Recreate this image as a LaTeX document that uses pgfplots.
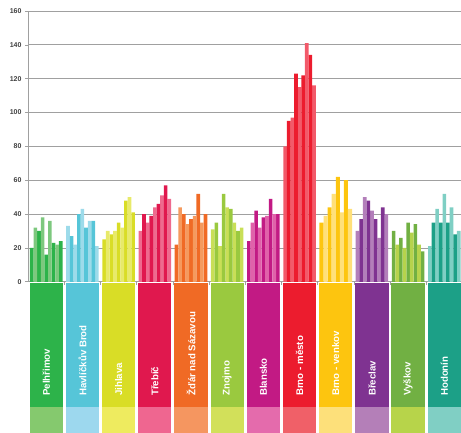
\documentclass[border=0pt]{standalone}
\usepackage{fontspec}
\setmainfont{Liberation Sans}
\usepackage{pgfplots}
\pgfplotsset{compat=1.18}
\definecolor{d0}{HTML}{2DB34A}\definecolor{l0}{HTML}{7DC87E}\definecolor{s0}{HTML}{85C96E}
\definecolor{d1}{HTML}{56C5D8}\definecolor{l1}{HTML}{9DDBEA}\definecolor{s1}{HTML}{9DD8EE}
\definecolor{d2}{HTML}{D9DD26}\definecolor{l2}{HTML}{E8EA6A}\definecolor{s2}{HTML}{EEEB5F}
\definecolor{d3}{HTML}{E0184E}\definecolor{l3}{HTML}{EE6A8E}\definecolor{s3}{HTML}{EF6690}
\definecolor{d4}{HTML}{F06A25}\definecolor{l4}{HTML}{F59A5E}\definecolor{s4}{HTML}{F59660}
\definecolor{d5}{HTML}{9AC93F}\definecolor{l5}{HTML}{C9DF57}\definecolor{s5}{HTML}{D2E05A}
\definecolor{d6}{HTML}{C21A84}\definecolor{l6}{HTML}{E062AA}\definecolor{s6}{HTML}{E46BAC}
\definecolor{d7}{HTML}{EC1C2E}\definecolor{l7}{HTML}{F25A6A}\definecolor{s7}{HTML}{F06068}
\definecolor{d8}{HTML}{FDC50F}\definecolor{l8}{HTML}{FFE07A}\definecolor{s8}{HTML}{FDE07A}
\definecolor{d9}{HTML}{7F3391}\definecolor{l9}{HTML}{B37FBA}\definecolor{s9}{HTML}{B47FB8}
\definecolor{d10}{HTML}{71B043}\definecolor{l10}{HTML}{B6D34C}\definecolor{s10}{HTML}{B7D44A}
\definecolor{d11}{HTML}{1CA087}\definecolor{l11}{HTML}{7FCFC4}\definecolor{s11}{HTML}{80CFC4}
\definecolor{gridc}{HTML}{A0A0A0}
\newcommand{\grp}[4]{%
  \fill[#2] (axis cs:#1-0.6,-0.8) rectangle (axis cs:#1+8.6,-73.8);
  \fill[#3] (axis cs:#1-0.6,-73.8) rectangle (axis cs:#1+8.6,-89.1);
  \node[rotate=90,anchor=west,text=white,font=\bfseries\fontsize{9.7}{10}\selectfont,inner sep=0pt] at (axis cs:#1+4,-67.5) {#4};
}
\begin{document}
\begin{tikzpicture}
\begin{axis}[
  scale only axis, width=433pt, height=271pt,
  xmin=-1.05, xmax=118.5, ymin=0, ymax=160,
  axis lines*=left,
  axis line style={gridc, line width=0.8pt},
  ytick={0,20,...,160},
  xtick={9,19,...,109}, xticklabels={},
  ymajorgrids, grid style={gridc, line width=0.8pt},
  tick style={gridc, line width=0.6pt}, tick align=outside, major tick length=3pt,
  /pgf/number format/assume math mode=true,
  yticklabel style={font=\bfseries\fontsize{7}{8}\selectfont, text=black!75},
  clip=false,
]
% Pelhrimov
\addplot[ybar,bar width=1,bar shift=0pt,fill=d0,draw=none] coordinates {(0,20) (2,30) (4,16) (6,23) (8,24)};
\addplot[ybar,bar width=1,bar shift=0pt,fill=l0,draw=none] coordinates {(1,32) (3,38) (5,36) (7,22)};
% Havlickuv Brod
\addplot[ybar,bar width=1,bar shift=0pt,fill=l1,draw=none] coordinates {(10,33) (12,22) (14,43) (16,36) (18,21)};
\addplot[ybar,bar width=1,bar shift=0pt,fill=d1,draw=none] coordinates {(11,27) (13,40) (15,32) (17,36)};
% Jihlava
\addplot[ybar,bar width=1,bar shift=0pt,fill=d2,draw=none] coordinates {(20,25) (22,28) (24,35) (26,48) (28,41)};
\addplot[ybar,bar width=1,bar shift=0pt,fill=l2,draw=none] coordinates {(21,30) (23,30) (25,32) (27,50)};
% Trebic
\addplot[ybar,bar width=1,bar shift=0pt,fill=l3,draw=none] coordinates {(30,30) (32,35) (34,44) (36,51) (38,49)};
\addplot[ybar,bar width=1,bar shift=0pt,fill=d3,draw=none] coordinates {(31,40) (33,39) (35,46) (37,57)};
% Zdar
\addplot[ybar,bar width=1,bar shift=0pt,fill=d4,draw=none] coordinates {(40,22) (42,40) (44,37) (46,52) (48,40)};
\addplot[ybar,bar width=1,bar shift=0pt,fill=l4,draw=none] coordinates {(41,44) (43,34) (45,39) (47,35)};
% Znojmo
\addplot[ybar,bar width=1,bar shift=0pt,fill=l5,draw=none] coordinates {(50,31) (52,21) (54,44) (56,35) (58,32)};
\addplot[ybar,bar width=1,bar shift=0pt,fill=d5,draw=none] coordinates {(51,35) (53,52) (55,43) (57,30)};
% Blansko
\addplot[ybar,bar width=1,bar shift=0pt,fill=d6,draw=none] coordinates {(60,24) (62,42) (64,38) (66,49) (68,40)};
\addplot[ybar,bar width=1,bar shift=0pt,fill=l6,draw=none] coordinates {(61,35) (63,32) (65,39) (67,40)};
% Brno-mesto
\addplot[ybar,bar width=1,bar shift=0pt,fill=l7,draw=none] coordinates {(70,80) (72,97) (74,115) (76,141) (78,116)};
\addplot[ybar,bar width=1,bar shift=0pt,fill=d7,draw=none] coordinates {(71,95) (73,123) (75,122) (77,134)};
% Brno-venkov (8 bars)
\addplot[ybar,bar width=1.125,bar shift=0pt,fill=d8,draw=none] coordinates {(80.0625,35) (82.3125,44) (84.5625,62) (86.8125,60)};
\addplot[ybar,bar width=1.125,bar shift=0pt,fill=l8,draw=none] coordinates {(81.1875,39) (83.4375,52) (85.6875,41) (87.9375,43)};
% Breclav
\addplot[ybar,bar width=1,bar shift=0pt,fill=l9,draw=none] coordinates {(90,30) (92,50) (94,42) (96,26) (98,40)};
\addplot[ybar,bar width=1,bar shift=0pt,fill=d9,draw=none] coordinates {(91,37) (93,48) (95,37) (97,44)};
% Vyskov
\addplot[ybar,bar width=1,bar shift=0pt,fill=d10,draw=none] coordinates {(100,30) (102,26) (104,35) (106,34) (108,18)};
\addplot[ybar,bar width=1,bar shift=0pt,fill=l10,draw=none] coordinates {(101,22) (103,20) (105,29) (107,22)};
% Hodonin
\addplot[ybar,bar width=1,bar shift=0pt,fill=l11,draw=none] coordinates {(110,21) (112,43) (114,52) (116,44) (118,30)};
\addplot[ybar,bar width=1,bar shift=0pt,fill=d11,draw=none] coordinates {(111,35) (113,35) (115,35) (117,28)};
\grp{0}{d0}{s0}{Pelhřimov}
\grp{10}{d1}{s1}{Havlíčkův Brod}
\grp{20}{d2}{s2}{Jihlava}
\grp{30}{d3}{s3}{Třebíč}
\grp{40}{d4}{s4}{Žďár nad Sázavou}
\grp{50}{d5}{s5}{Znojmo}
\grp{60}{d6}{s6}{Blansko}
\grp{70}{d7}{s7}{Brno - město}
\grp{80}{d8}{s8}{Brno - venkov}
\grp{90}{d9}{s9}{Břeclav}
\grp{100}{d10}{s10}{Vyškov}
\grp{110}{d11}{s11}{Hodonín}
\path (axis cs:-1.05,166.5) ++(-28pt,0pt) rectangle (axis cs:118.5,-89.1);
\end{axis}
\end{tikzpicture}
\end{document}
